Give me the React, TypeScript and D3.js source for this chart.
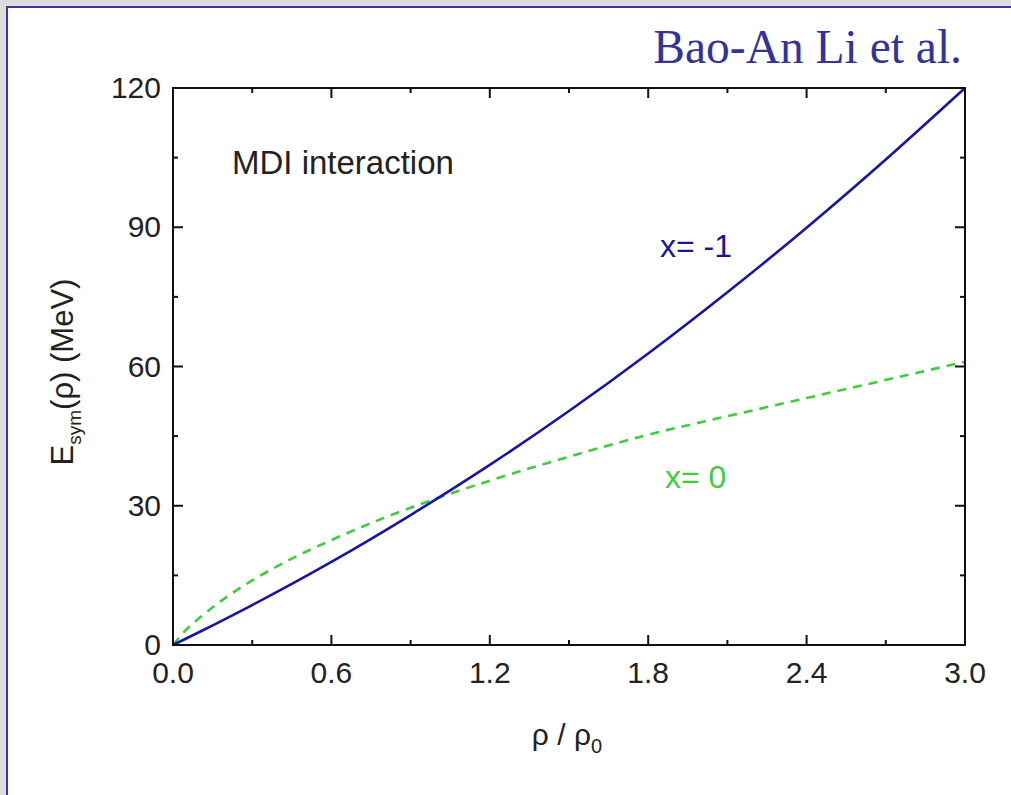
import React from "react";
import * as d3 from "d3";

// Reduced density ρ/ρ0 sample points
const rhoBlue = [0, 0.1, 0.3, 0.6, 0.9, 1.2, 1.5, 1.8, 2.1, 2.4, 2.7, 3.0];
// Symmetry energy for x = -1 (MeV)
const esymBlue = [0, 2.8, 8.6, 17.9, 28.0, 38.8, 50.4, 62.8, 76.0, 89.9, 104.6, 120];

const rhoGreen = [0, 0.05, 0.1, 0.2, 0.3, 0.45, 0.6, 0.8, 1.0, 1.2, 1.4, 1.6, 1.8, 2.0, 2.2, 2.4, 2.6, 2.8, 3.0];
// Symmetry energy for x = 0 (MeV)
const esymGreen = [0, 3.3, 5.8, 10.2, 13.9, 18.6, 22.6, 27.4, 31.6, 35.4, 38.9, 42.2, 45.3, 48.0, 50.6, 53.2, 55.8, 58.4, 61.0];

const xTicks = [0, 0.6, 1.2, 1.8, 2.4, 3.0];
const xMinorTicks = [0.3, 0.9, 1.5, 2.1, 2.7];
const yTicks = [0, 30, 60, 90, 120];
const yMinorTicks = [15, 45, 75, 105];

const W = 1011;
const H = 795;
const left = 173;
const right = 965;
const top = 88;
const bottom = 645;

const BLUE = "#16169e";
const GREEN = "#3fcc3f";
const TEXT = "#222";
const SANS = "Arial, 'Liberation Sans', Helvetica, sans-serif";

export default function App() {
  const x = d3.scaleLinear().domain([0, 3]).range([left, right]);
  const y = d3.scaleLinear().domain([0, 120]).range([bottom, top]);

  const line = d3
    .line<[number, number]>()
    .x((d) => x(d[0]))
    .y((d) => y(d[1]))
    .curve(d3.curveMonotoneX);

  const bluePath = line(rhoBlue.map((r, i) => [r, esymBlue[i]] as [number, number])) || "";
  const greenPath = line(rhoGreen.map((r, i) => [r, esymGreen[i]] as [number, number])) || "";

  const major = 10;
  const minor = 5;

  return (
    <svg
      width={W}
      height={H}
      style={{ position: "absolute", left: 0, top: 0, display: "block" }}
    >
      <rect x={0} y={0} width={W} height={H} fill="#dddddd" />
      <rect x={7} y={7} width={W + 10} height={H + 10} fill="#ffffff" stroke="#3a3aa6" strokeWidth={2} />

      <text
        x={962}
        y={63}
        textAnchor="end"
        fontFamily="'Liberation Serif', 'Times New Roman', serif"
        fontSize={47.5}
        fill="#33339a"
      >
        Bao-An Li et al.
      </text>

      {/* curves */}
      <path d={greenPath} fill="none" stroke={GREEN} strokeWidth={2.6} strokeDasharray="9 7" />
      <path d={bluePath} fill="none" stroke={BLUE} strokeWidth={2.6} />

      {/* frame */}
      <rect x={left} y={top} width={right - left} height={bottom - top} fill="none" stroke="#111" strokeWidth={2} />

      {/* x ticks, bottom and top, pointing inward */}
      {xTicks.map((t) => (
        <g key={"xt" + t}>
          <line x1={x(t)} x2={x(t)} y1={bottom} y2={bottom - major} stroke="#111" strokeWidth={2} />
          <line x1={x(t)} x2={x(t)} y1={top} y2={top + major} stroke="#111" strokeWidth={2} />
          <text
            x={x(t)}
            y={683}
            textAnchor="middle"
            fontFamily={SANS}
            fontSize={30}
            fill={TEXT}
          >
            {t.toFixed(1)}
          </text>
        </g>
      ))}
      {xMinorTicks.map((t) => (
        <g key={"xm" + t}>
          <line x1={x(t)} x2={x(t)} y1={bottom} y2={bottom - minor} stroke="#111" strokeWidth={2} />
          <line x1={x(t)} x2={x(t)} y1={top} y2={top + minor} stroke="#111" strokeWidth={2} />
        </g>
      ))}

      {/* y ticks, left and right, pointing inward */}
      {yTicks.map((t) => (
        <g key={"yt" + t}>
          <line x1={left} x2={left + major} y1={y(t)} y2={y(t)} stroke="#111" strokeWidth={2} />
          <line x1={right} x2={right - major} y1={y(t)} y2={y(t)} stroke="#111" strokeWidth={2} />
          <text
            x={161}
            y={y(t)}
            dy="0.34em"
            textAnchor="end"
            fontFamily={SANS}
            fontSize={30}
            fill={TEXT}
          >
            {t}
          </text>
        </g>
      ))}
      {yMinorTicks.map((t) => (
        <g key={"ym" + t}>
          <line x1={left} x2={left + minor} y1={y(t)} y2={y(t)} stroke="#111" strokeWidth={2} />
          <line x1={right} x2={right - minor} y1={y(t)} y2={y(t)} stroke="#111" strokeWidth={2} />
        </g>
      ))}

      {/* axis titles */}
      <text x={567} y={745} textAnchor="middle" fontFamily={SANS} fontSize={30} fill={TEXT}>
        ρ / ρ
        <tspan fontSize={20} dy={8}>0</tspan>
      </text>
      <text
        transform="translate(73,372) rotate(-90)"
        textAnchor="middle"
        fontFamily={SANS}
        fontSize={31}
        fill={TEXT}
      >
        E
        <tspan fontSize={19} dy={8}>sym</tspan>
        <tspan dy={-8}>(ρ) (MeV)</tspan>
      </text>

      {/* annotations */}
      <text x={232} y={174} fontFamily={SANS} fontSize={33} fill={TEXT}>
        MDI interaction
      </text>
      <text x={660} y={257} fontFamily={SANS} fontSize={32} fill={BLUE}>
        x= -1
      </text>
      <text x={665} y={488} fontFamily={SANS} fontSize={32} fill={GREEN}>
        x= 0
      </text>
    </svg>
  );
}
